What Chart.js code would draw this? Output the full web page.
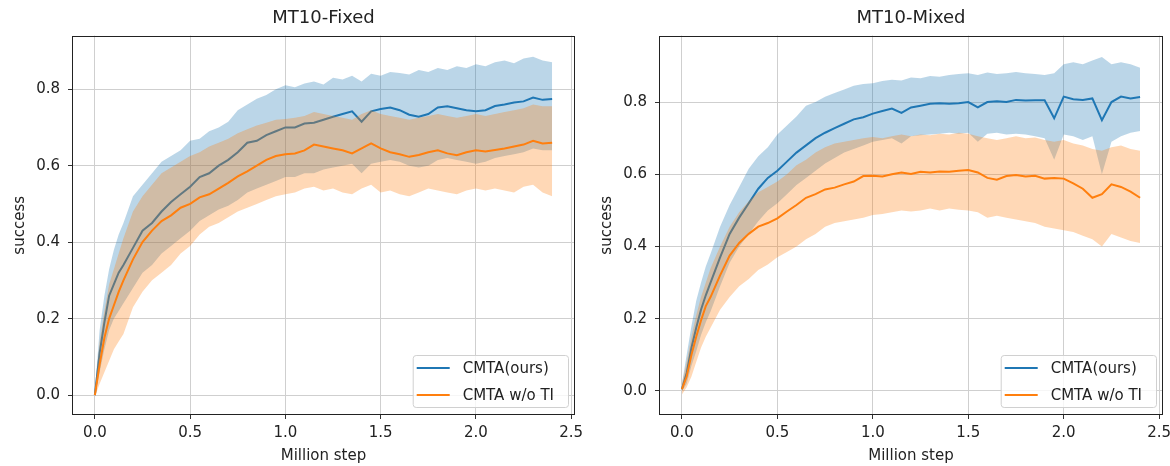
<!DOCTYPE html>
<html>
<head>
<meta charset="utf-8">
<script src="https://cdn.jsdelivr.net/npm/chart.js@4.4.0/dist/chart.umd.min.js"></script>
<style>
  html, body { margin: 0; padding: 0; background: #fff; }
  #wrap { position: relative; width: 1170px; height: 466px; overflow: hidden; }
  .panel { position: absolute; top: 0; }
  #left { left: 0; }
  #right { left: 587px; }
</style>
</head>
<body>
<div id="wrap">
  <div class="panel" id="left"><canvas id="fixed-chart" width="587" height="466"></canvas></div>
  <div class="panel" id="right"><canvas id="mixed-chart" width="583" height="466"></canvas></div>
</div>
<script>
// x positions (million steps) shared by every series
const steps = [0, 0.025, 0.05, 0.075, 0.1, 0.125, 0.15,
  0.2, 0.25, 0.3, 0.35, 0.4, 0.45, 0.5, 0.55, 0.6, 0.65, 0.7, 0.75, 0.8, 0.85, 0.9, 0.95,
  1.0, 1.05, 1.1, 1.15, 1.2, 1.25, 1.3, 1.35, 1.4, 1.45, 1.5, 1.55, 1.6, 1.65, 1.7, 1.75,
  1.8, 1.85, 1.9, 1.95, 2.0, 2.05, 2.1, 2.15, 2.2, 2.25, 2.3, 2.35, 2.4];

const xTicks = [0, 0.5, 1.0, 1.5, 2.0, 2.5];
const yTicks = [0, 0.2, 0.4, 0.6, 0.8];
const seriesNames = ['CMTA(ours)', 'CMTA w/o TI'];

// MT10-Fixed
const fixedOurs = [0, 0.11, 0.19, 0.26, 0.29, 0.32, 0.34,
  0.385, 0.43, 0.45, 0.48, 0.505, 0.525, 0.545, 0.57, 0.58, 0.60, 0.615, 0.635, 0.66, 0.665, 0.68, 0.69,
  0.70, 0.70, 0.71, 0.712, 0.72, 0.728, 0.735, 0.742, 0.715, 0.742, 0.748, 0.752, 0.745, 0.733, 0.728, 0.735,
  0.752, 0.755, 0.75, 0.745, 0.742, 0.745, 0.756, 0.76, 0.765, 0.768, 0.778, 0.772, 0.774];
const fixedOursHi = [0.01, 0.17, 0.26, 0.33, 0.38, 0.42, 0.45,
  0.52, 0.55, 0.58, 0.61, 0.625, 0.64, 0.665, 0.67, 0.69, 0.70, 0.715, 0.745, 0.76, 0.775, 0.785, 0.80,
  0.81, 0.805, 0.815, 0.82, 0.812, 0.83, 0.825, 0.835, 0.82, 0.84, 0.835, 0.845, 0.842, 0.838, 0.85, 0.845,
  0.855, 0.85, 0.86, 0.855, 0.865, 0.86, 0.87, 0.875, 0.868, 0.88, 0.885, 0.875, 0.87];
const fixedOursLo = [0, 0.06, 0.12, 0.17, 0.20, 0.22, 0.24,
  0.28, 0.32, 0.34, 0.37, 0.39, 0.41, 0.43, 0.455, 0.47, 0.485, 0.495, 0.51, 0.53, 0.54, 0.55, 0.56,
  0.57, 0.57, 0.58, 0.58, 0.59, 0.595, 0.60, 0.605, 0.58, 0.605, 0.61, 0.615, 0.61, 0.60, 0.595, 0.60,
  0.615, 0.62, 0.615, 0.61, 0.605, 0.61, 0.62, 0.625, 0.63, 0.635, 0.645, 0.64, 0.64];
const fixedNoTI = [0, 0.08, 0.15, 0.20, 0.235, 0.27, 0.30,
  0.355, 0.40, 0.43, 0.455, 0.47, 0.49, 0.50, 0.517, 0.525, 0.54, 0.555, 0.572, 0.585, 0.60, 0.615, 0.625,
  0.63, 0.632, 0.64, 0.655, 0.65, 0.645, 0.64, 0.632, 0.645, 0.658, 0.645, 0.635, 0.63, 0.623, 0.628, 0.635,
  0.64, 0.632, 0.627, 0.635, 0.64, 0.637, 0.641, 0.645, 0.65, 0.655, 0.665, 0.658, 0.66];
const fixedNoTIHi = [0.01, 0.14, 0.22, 0.29, 0.33, 0.37, 0.41,
  0.48, 0.52, 0.55, 0.58, 0.595, 0.61, 0.625, 0.635, 0.65, 0.66, 0.67, 0.685, 0.695, 0.705, 0.712, 0.72,
  0.722, 0.725, 0.73, 0.74, 0.735, 0.73, 0.725, 0.72, 0.735, 0.745, 0.735, 0.73, 0.725, 0.72, 0.725, 0.73,
  0.735, 0.73, 0.725, 0.73, 0.735, 0.73, 0.735, 0.74, 0.745, 0.75, 0.76, 0.755, 0.755];
const fixedNoTILo = [-0.005, 0.03, 0.06, 0.09, 0.12, 0.14, 0.16,
  0.23, 0.27, 0.30, 0.32, 0.34, 0.37, 0.39, 0.42, 0.44, 0.45, 0.465, 0.48, 0.49, 0.50, 0.51, 0.52,
  0.525, 0.53, 0.54, 0.545, 0.535, 0.54, 0.53, 0.525, 0.54, 0.55, 0.53, 0.535, 0.525, 0.52, 0.53, 0.54,
  0.535, 0.53, 0.525, 0.535, 0.54, 0.535, 0.54, 0.535, 0.53, 0.545, 0.55, 0.53, 0.52];

// MT10-Mixed
const mixedOurs = [0.005, 0.05, 0.12, 0.175, 0.225, 0.265, 0.30,
  0.37, 0.435, 0.48, 0.52, 0.56, 0.59, 0.61, 0.635, 0.66, 0.68, 0.70, 0.715, 0.728, 0.74, 0.752, 0.758,
  0.768, 0.775, 0.782, 0.77, 0.785, 0.79, 0.795, 0.797, 0.795, 0.797, 0.80, 0.785, 0.80, 0.802, 0.80, 0.806,
  0.804, 0.805, 0.805, 0.755, 0.815, 0.808, 0.806, 0.81, 0.75, 0.80, 0.815, 0.81, 0.814];
const mixedOursHi = [0.02, 0.10, 0.18, 0.25, 0.30, 0.345, 0.38,
  0.455, 0.515, 0.565, 0.615, 0.65, 0.675, 0.71, 0.735, 0.76, 0.79, 0.80, 0.815, 0.825, 0.835, 0.845, 0.85,
  0.852, 0.858, 0.862, 0.86, 0.868, 0.866, 0.872, 0.87, 0.875, 0.878, 0.88, 0.875, 0.882, 0.878, 0.88, 0.883,
  0.88, 0.878, 0.875, 0.88, 0.905, 0.91, 0.905, 0.915, 0.925, 0.905, 0.91, 0.905, 0.895];
const mixedOursLo = [0, 0.02, 0.07, 0.11, 0.155, 0.19, 0.22,
  0.29, 0.355, 0.40, 0.435, 0.47, 0.50, 0.52, 0.545, 0.57, 0.59, 0.61, 0.63, 0.645, 0.66, 0.67, 0.68,
  0.69, 0.695, 0.70, 0.685, 0.705, 0.708, 0.71, 0.712, 0.715, 0.712, 0.715, 0.69, 0.712, 0.715, 0.71, 0.712,
  0.71, 0.705, 0.70, 0.64, 0.71, 0.705, 0.695, 0.705, 0.60, 0.69, 0.705, 0.715, 0.72];
const mixedNoTI = [0.005, 0.04, 0.10, 0.15, 0.195, 0.235, 0.26,
  0.32, 0.375, 0.41, 0.435, 0.455, 0.465, 0.478, 0.497, 0.515, 0.535, 0.545, 0.558, 0.563, 0.572, 0.58, 0.595,
  0.596, 0.594, 0.60, 0.605, 0.601, 0.607, 0.605, 0.608, 0.607, 0.61, 0.612, 0.605, 0.59, 0.585, 0.595, 0.598,
  0.594, 0.596, 0.588, 0.59, 0.588, 0.575, 0.56, 0.535, 0.545, 0.572, 0.565, 0.552, 0.535];
const mixedNoTIHi = [0.02, 0.08, 0.15, 0.21, 0.26, 0.30, 0.34,
  0.40, 0.455, 0.495, 0.525, 0.55, 0.565, 0.58, 0.60, 0.625, 0.64, 0.66, 0.675, 0.685, 0.69, 0.695, 0.70,
  0.703, 0.70, 0.705, 0.71, 0.705, 0.71, 0.708, 0.712, 0.71, 0.715, 0.712, 0.705, 0.70, 0.695, 0.70, 0.705,
  0.70, 0.702, 0.695, 0.69, 0.695, 0.685, 0.68, 0.67, 0.665, 0.675, 0.68, 0.67, 0.665];
const mixedNoTILo = [-0.01, 0.01, 0.04, 0.08, 0.12, 0.15, 0.175,
  0.225, 0.26, 0.29, 0.31, 0.335, 0.35, 0.37, 0.385, 0.40, 0.42, 0.435, 0.455, 0.465, 0.47, 0.475, 0.48,
  0.487, 0.49, 0.495, 0.50, 0.497, 0.50, 0.505, 0.50, 0.505, 0.502, 0.50, 0.495, 0.48, 0.485, 0.48, 0.475,
  0.47, 0.465, 0.455, 0.45, 0.445, 0.44, 0.43, 0.42, 0.40, 0.435, 0.425, 0.415, 0.41];

const BLUE = '#1f77b4';
const ORANGE = '#ff7f0e';
const FONT = 'DejaVu Sans';

function pts(values) {
    return steps.map((x, i) => ({ x: x, y: values[i] }));
}

// draws the axes frame on all four sides
const framePlugin = {
    id: 'frame',
    afterDatasetsDraw(chart) {
        const { ctx, chartArea: a } = chart;
        ctx.save();
        ctx.strokeStyle = '#222';
        ctx.lineWidth = 1;
        ctx.strokeRect(Math.round(a.left) + 0.5, Math.round(a.top) + 0.5,
            Math.round(a.right - a.left) - 1, Math.round(a.bottom - a.top) - 1);
        ctx.restore();
    }
};

// matplotlib style legend, lower right inside the axes
const legendPlugin = {
    id: 'boxLegend',
    afterDraw(chart) {
        const { ctx, chartArea: a } = chart;
        const items = chart.data.datasets.filter(d => d.legendRank !== undefined)
            .sort((p, q) => p.legendRank - q.legendRank);
        ctx.save();
        ctx.font = '15px "' + FONT + '"';
        const textW = Math.max(...items.map(d => ctx.measureText(d.label).width));
        const rowH = 27;
        const w = 50 + textW + 14;
        const h = rowH * items.length - 2;
        const x0 = a.right - 7 - w;
        const y0 = a.bottom - 8 - h;
        ctx.fillStyle = 'rgba(255,255,255,0.8)';
        ctx.strokeStyle = '#d0d0d0';
        ctx.lineWidth = 1;
        ctx.beginPath();
        ctx.roundRect(x0 + 0.5, y0 + 0.5, w, h, 3);
        ctx.fill();
        ctx.stroke();
        items.forEach((d, i) => {
            const cy = y0 + 13 + i * rowH;
            ctx.strokeStyle = d.borderColor;
            ctx.lineWidth = 2;
            ctx.beginPath();
            ctx.moveTo(x0 + 4, cy);
            ctx.lineTo(x0 + 37, cy);
            ctx.stroke();
            ctx.fillStyle = '#222';
            ctx.textBaseline = 'middle';
            ctx.fillText(d.label, x0 + 50, cy + 1);
        });
        ctx.restore();
    }
};

function makeChart(canvasId, title, ours, oursHi, oursLo, noTI, noTIHi, noTILo, yMin, yMax, padRight) {
    const ctx = document.getElementById(canvasId).getContext('2d');
    return new Chart(ctx, {
        type: 'line',
        data: {
            datasets: [
                { label: seriesNames[1], legendRank: 1, data: pts(noTI), borderColor: ORANGE,
                  borderWidth: 2, pointRadius: 0, fill: false },
                { data: pts(noTIHi), borderWidth: 0, pointRadius: 0,
                  backgroundColor: 'rgba(255,127,14,0.3)', fill: '+1' },
                { data: pts(noTILo), borderWidth: 0, pointRadius: 0, fill: false },
                { label: seriesNames[0], legendRank: 0, data: pts(ours), borderColor: BLUE,
                  borderWidth: 2, pointRadius: 0, fill: false },
                { data: pts(oursHi), borderWidth: 0, pointRadius: 0,
                  backgroundColor: 'rgba(31,119,180,0.3)', fill: '+1' },
                { data: pts(oursLo), borderWidth: 0, pointRadius: 0, fill: false }
            ]
        },
        options: {
            responsive: false,
            animation: false,
            layout: { padding: { left: 0, right: padRight, top: 0, bottom: 0 } },
            elements: { line: { tension: 0 } },
            plugins: {
                legend: { display: false },
                tooltip: { enabled: false },
                title: {
                    display: true,
                    fullSize: false,
                    text: title,
                    color: '#222',
                    font: { family: FONT, size: 18, weight: 'normal' },
                    padding: { top: 8, bottom: 6 }
                }
            },
            scales: {
                x: {
                    type: 'linear',
                    min: -0.12,
                    max: 2.52,
                    afterBuildTicks: s => { s.ticks = xTicks.map(v => ({ value: v })); },
                    afterFit: s => { s.height = 51; s.paddingLeft = 0; s.paddingRight = 0; },
                    border: { display: false },
                    grid: { color: '#cfcfcf', lineWidth: 1, tickLength: 4, tickColor: '#333' },
                    ticks: {
                        color: '#222', padding: 5, maxRotation: 0,
                        font: { family: FONT, size: 15 },
                        callback: v => v.toFixed(1)
                    },
                    title: {
                        display: true, text: 'Million step', color: '#222',
                        font: { family: FONT, size: 15 },
                        padding: { top: 2, bottom: 1 }
                    }
                },
                y: {
                    min: yMin,
                    max: yMax,
                    afterBuildTicks: s => { s.ticks = yTicks.map(v => ({ value: v })); },
                    afterFit: s => { s.width = 72; },
                    border: { display: false },
                    grid: { color: '#cfcfcf', lineWidth: 1, tickLength: 4, tickColor: '#333' },
                    ticks: {
                        color: '#222', padding: 8,
                        font: { family: FONT, size: 15 },
                        callback: v => v.toFixed(1)
                    },
                    title: {
                        display: true, text: 'success', color: '#222',
                        font: { family: FONT, size: 15 },
                        padding: { top: 11, bottom: 0 }
                    }
                }
            }
        },
        plugins: [framePlugin, legendPlugin]
    });
}

makeChart('fixed-chart', 'MT10-Fixed', fixedOurs, fixedOursHi, fixedOursLo,
    fixedNoTI, fixedNoTIHi, fixedNoTILo, -0.052, 0.94, 12);
makeChart('mixed-chart', 'MT10-Mixed', mixedOurs, mixedOursHi, mixedOursLo,
    mixedNoTI, mixedNoTIHi, mixedNoTILo, -0.0665, 0.984, 7);
</script>
</body>
</html>
